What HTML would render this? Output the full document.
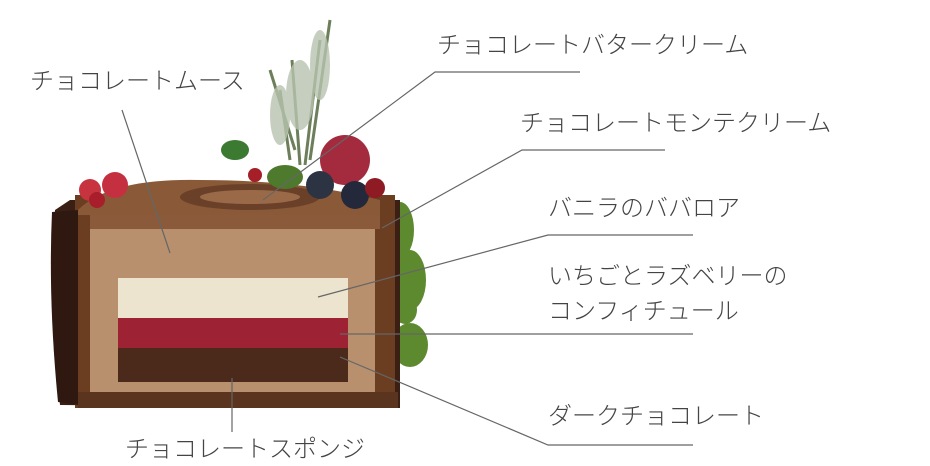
<!DOCTYPE html>
<html><head><meta charset="utf-8"><style>
html,body{margin:0;padding:0;background:#fff;}
svg{display:block}
text{font-family:"Liberation Sans","Noto Sans CJK JP",sans-serif;font-size:24px;font-weight:300;fill:#444;}
</style></head><body>
<svg width="930" height="466" viewBox="0 0 930 466" xmlns="http://www.w3.org/2000/svg">
<!-- herbs -->
<g stroke="#6d7f5a" stroke-width="3" fill="none">
<path d="M300 165 L292 60"/><path d="M305 165 L320 40"/><path d="M295 150 L270 70"/><path d="M310 160 L330 20"/><path d="M290 160 L280 90"/>
</g>
<g fill="#b8c4b0" opacity="0.8">
<ellipse cx="300" cy="95" rx="14" ry="35"/><ellipse cx="320" cy="65" rx="10" ry="35"/><ellipse cx="280" cy="115" rx="10" ry="30"/>
</g>
<!-- green moss right -->
<g fill="#5d8a2e">
<ellipse cx="400" cy="230" rx="14" ry="28"/><ellipse cx="410" cy="280" rx="16" ry="30"/><ellipse cx="410" cy="345" rx="18" ry="22"/><ellipse cx="405" cy="310" rx="12" ry="14"/>
</g>
<!-- cake body -->
<path d="M55 210 Q50 300 60 405 L400 408 L400 200 L70 200 Z" fill="#3a1f14"/>
<rect x="75" y="195" width="320" height="213" fill="#6b3e22"/>
<path d="M78 210 Q110 178 200 180 Q300 180 380 200 L380 215 L78 215 Z" fill="#8a5a38"/>
<ellipse cx="250" cy="197" rx="70" ry="13" fill="#6a4028"/>
<ellipse cx="250" cy="197" rx="50" ry="7" fill="#9a6a48"/>
<rect x="90" y="215" width="290" height="14" fill="#8a5a3a"/>
<rect x="90" y="229" width="285" height="163" fill="#b8906e"/>
<rect x="118" y="278" width="230" height="41" fill="#ece4cf"/>
<rect x="118" y="318" width="230" height="31" fill="#9c2234"/>
<rect x="118" y="348" width="230" height="34" fill="#4b2a1b"/>
<rect x="78" y="392" width="320" height="16" fill="#5b341f"/>
<!-- left bark -->
<path d="M52 212 Q48 300 58 402 L78 405 L78 210 Z" fill="#2e1810"/>
<!-- berries -->
<circle cx="90" cy="190" r="11" fill="#c7333e"/><circle cx="115" cy="185" r="13" fill="#c53040"/><circle cx="97" cy="200" r="8" fill="#a81e2a"/>
<circle cx="345" cy="160" r="25" fill="#a42a3e"/>
<circle cx="320" cy="185" r="14" fill="#2c3444"/><circle cx="355" cy="195" r="14" fill="#23283a"/><circle cx="375" cy="188" r="10" fill="#8e1a24"/>
<circle cx="255" cy="175" r="7" fill="#a51e28"/>
<ellipse cx="285" cy="177" rx="18" ry="12" fill="#4e7a2e"/>
<ellipse cx="235" cy="150" rx="14" ry="10" fill="#3c7a32"/>
<!-- leader lines -->
<g stroke="#666" stroke-width="1.2" fill="none">
<path d="M263 200 L435 72 L580 72"/>
<path d="M122 110 L170 253"/>
<path d="M382 228 L522 150 L665 150"/>
<path d="M318 297 L548 235 L693 235"/>
<path d="M340 334 L693 334"/>
<path d="M340 357 L548 445 L693 445"/>
<path d="M232 378 L232 432"/>
</g>
<text x="437" y="53">チョコレートバタークリーム</text>
<text x="30" y="89">チョコレートムース</text>
<text x="520" y="131">チョコレートモンテクリーム</text>
<text x="548" y="216">バニラのババロア</text>
<text x="548" y="284">いちごとラズベリーの</text>
<text x="548" y="319">コンフィチュール</text>
<text x="548" y="424">ダークチョコレート</text>
<text x="125" y="457">チョコレートスポンジ</text>
</svg>
</body></html>
